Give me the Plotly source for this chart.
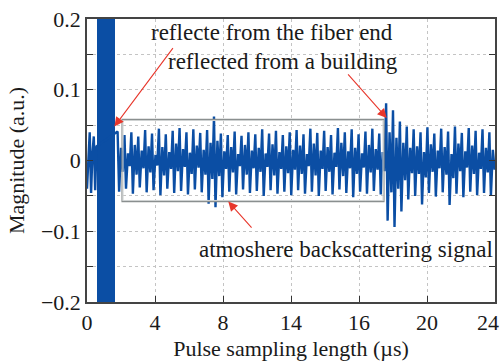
import numpy as np
import plotly.graph_objects as go

# ---------------- data ----------------
# signal before the fiber-end reflection (µs, a.u.)
pre_times = [0.0, 0.08, 0.16, 0.24, 0.32, 0.40, 0.48, 0.56]
pre_values = [-0.040, 0.015, 0.040, -0.046, 0.010, 0.034, -0.042, 0.020]

# saturated fiber-end reflection window (µs) and its clipped level (a.u.)
fiber_end_start = 0.6
fiber_end_stop = 1.65
fiber_end_level = 0.3

# backscatter signal: per oscillation cycle a sharp spike (peak, trough)
# followed by a small wiggle in the middle band (mid_hi, mid_lo)
first_spike_us = 1.8
spike_period_us = 0.405
peaks = [0.041, 0.036, 0.040, 0.034, 0.043, 0.038, 0.045, 0.037, 0.042, 0.046, 0.040, 0.044,
         0.039, 0.043, 0.062, 0.038, 0.036, 0.041, 0.035, 0.040, 0.037, 0.044, 0.038, 0.042, 0.036, 0.040,
         0.043, 0.037, 0.045, 0.039, 0.042, 0.036, 0.046, 0.040, 0.044, 0.037, 0.041, 0.045, 0.038,
         0.081, 0.071, 0.055, 0.048,
         0.044, 0.040, 0.047, 0.038, 0.045, 0.041, 0.048, 0.039, 0.046, 0.042, 0.044, 0.040]
troughs = [-0.044, -0.040, -0.047, -0.038, -0.045, -0.042, -0.049, -0.040, -0.046, -0.043, -0.048, -0.041,
           -0.045, -0.061, -0.066, -0.052, -0.044, -0.048, -0.041, -0.046, -0.043, -0.050, -0.042, -0.047, -0.044, -0.049,
           -0.042, -0.047, -0.044, -0.050, -0.043, -0.048, -0.041, -0.046, -0.052, -0.044, -0.047, -0.043, -0.048,
           -0.085, -0.094, -0.072, -0.055,
           -0.050, -0.062, -0.046, -0.051, -0.045, -0.063, -0.047, -0.052, -0.044, -0.049, -0.046, -0.050]
mid_hi = [0.018, 0.010, 0.022, 0.014, 0.020, 0.008, 0.019, 0.012, 0.024, 0.016, 0.011, 0.021,
          0.015, 0.025, 0.028, 0.013, 0.019, 0.009, 0.022, 0.014, 0.018, 0.010, 0.023, 0.012, 0.020, 0.015,
          0.021, 0.009, 0.024, 0.014, 0.019, 0.011, 0.025, 0.013, 0.018, 0.010, 0.022, 0.016, 0.012,
          0.040, 0.032, 0.025, 0.018,
          0.020, 0.012, 0.023, 0.014, 0.019, 0.009, 0.024, 0.013, 0.021, 0.011, 0.018, 0.015]
mid_lo = [-0.016, -0.008, -0.020, -0.011, -0.017, -0.007, -0.021, -0.012, -0.015, -0.009, -0.019, -0.010,
          -0.020, -0.026, -0.022, -0.012, -0.017, -0.008, -0.020, -0.011, -0.016, -0.009, -0.021, -0.012, -0.018, -0.013,
          -0.019, -0.008, -0.021, -0.012, -0.016, -0.009, -0.022, -0.011, -0.019, -0.010, -0.017, -0.013, -0.015,
          -0.045, -0.040, -0.028, -0.018,
          -0.019, -0.024, -0.016, -0.011, -0.020, -0.025, -0.015, -0.010, -0.019, -0.012, -0.017, -0.013]

x_tickvals = [0, 4, 8, 12, 16, 20, 24]
x_ticktext = ["0", "4", "8", "14", "16", "20", ""]   # last label drawn flush with the edge below
x_last_label = "24"
y_tickvals = [-0.2, -0.15, -0.1, -0.05, 0, 0.05, 0.1, 0.15, 0.2]
y_ticktext = ["\u22120.2", "", "\u22120.1", "", "0", "", "0.1", "", "0.2"]

# ---------------- build series ----------------
n = len(peaks)
cycle_t = first_spike_us + spike_period_us * np.arange(n)
main_t = np.empty(4 * n)
main_v = np.empty(4 * n)
main_t[0::4] = cycle_t
main_t[1::4] = cycle_t + spike_period_us * 0.22
main_t[2::4] = cycle_t + spike_period_us * 0.50
main_t[3::4] = cycle_t + spike_period_us * 0.76
main_v[0::4] = peaks
main_v[1::4] = troughs
main_v[2::4] = mid_hi
main_v[3::4] = mid_lo

t_all = list(pre_times) + list(main_t)
v_all = list(pre_values) + list(main_v)

BLUE = "#0b4ea4"
RED = "#e8372c"
FONT = "Liberation Serif, Times New Roman, serif"
TXT = "#1a1a1a"

fig = go.Figure()
fig.add_trace(go.Scatter(x=t_all, y=v_all, mode="lines",
                         line=dict(color=BLUE, width=2.4), hoverinfo="skip"))
fig.add_trace(go.Bar(x=[(fiber_end_start + fiber_end_stop) / 2],
                     y=[2 * fiber_end_level], base=[-fiber_end_level],
                     width=[fiber_end_stop - fiber_end_start],
                     marker=dict(color=BLUE, line=dict(width=0)), hoverinfo="skip"))

# box around the atmosphere backscattering region (dark outer, light inner edge)
fig.add_shape(type="rect", x0=2.06, x1=17.47, y0=-0.058, y1=0.058,
              line=dict(color="#8a8f8f", width=1.2), layer="above")
fig.add_shape(type="rect", x0=2.12, x1=17.41, y0=-0.0565, y1=0.0565,
              line=dict(color="#cfd2d2", width=1), layer="above")

# arrows
arrows = [
    dict(x=1.61, y=0.048, ax=5.12, ay=0.161),
    dict(x=17.63, y=0.060, ax=15.28, ay=0.124),
    dict(x=8.31, y=-0.058, ax=9.76, ay=-0.097),
]
for a in arrows:
    fig.add_annotation(x=a["x"], y=a["y"], ax=a["ax"], ay=a["ay"], xref="x", yref="y",
                       axref="x", ayref="y", text="", showarrow=True, arrowhead=2,
                       arrowsize=1.7, arrowwidth=1.1, arrowcolor=RED)

texts = [
    dict(x=10.88, y=0.181, text="reflecte from the fiber end"),
    dict(x=11.53, y=0.140, text="reflected from a building"),
    dict(x=15.24, y=-0.126, text="atmoshere backscattering signal"),
]
for t in texts:
    fig.add_annotation(x=t["x"], y=t["y"], xref="x", yref="y", text=t["text"],
                       showarrow=False, font=dict(family=FONT, size=23, color=TXT),
                       bgcolor="rgba(255,255,255,0)")

# last x tick label, kept inside the page edge
fig.add_annotation(x=x_tickvals[-1], y=0, xref="x", yref="paper", text=x_last_label,
                   showarrow=False, xanchor="right", yanchor="top", xshift=6, yshift=-6,
                   font=dict(family=FONT, size=22, color=TXT))

fig.update_layout(
    width=501, height=364,
    margin=dict(l=87, r=6, t=19, b=62),
    plot_bgcolor="white", paper_bgcolor="white",
    showlegend=False, bargap=0,
    font=dict(family=FONT, size=22, color=TXT),
)
fig.update_xaxes(range=[0, 24], tickvals=x_tickvals, ticktext=x_ticktext,
                 automargin=False,
                 ticks="inside", ticklen=6, tickwidth=1.2, tickcolor="#333",
                 showline=True, linecolor="#444", linewidth=1.5, mirror=True,
                 showgrid=True, gridcolor="#c4c4c4", griddash="dot", gridwidth=1,
                 zeroline=False,
                 title=dict(text="Pulse sampling length (\u00b5s)", standoff=6,
                            font=dict(family=FONT, size=22)))
fig.update_yaxes(range=[-0.2, 0.2], tickvals=y_tickvals, ticktext=y_ticktext,
                 automargin=False,
                 ticks="inside", ticklen=6, tickwidth=1.2, tickcolor="#333",
                 showline=True, linecolor="#444", linewidth=1.5, mirror="ticks",
                 showgrid=True, gridcolor="#c4c4c4", griddash="dot", gridwidth=1,
                 zeroline=False,
                 title=dict(text="Magnitude (a.u.)", standoff=10,
                            font=dict(family=FONT, size=22)))

fig.write_html("out.html")
